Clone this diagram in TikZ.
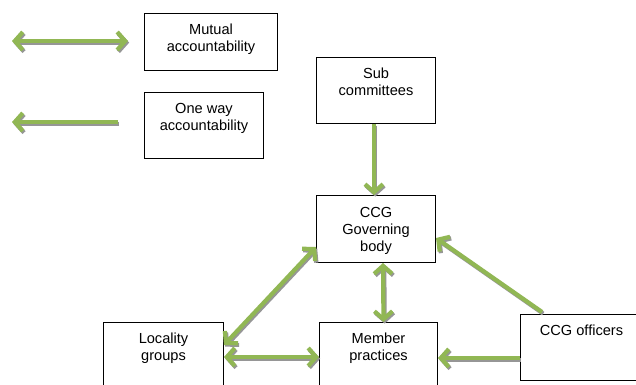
\documentclass[tikz,border=0pt]{standalone}
\usepackage{fontspec}
\setmainfont{Liberation Sans}
\usetikzlibrary{arrows.meta,calc}
\definecolor{accgreen}{RGB}{145,183,84}
\definecolor{shadowgray}{RGB}{150,150,150}
\tikzset{
  box/.style={draw=black, line width=1pt, fill=white, inner sep=0pt, anchor=north west},
  txt/.style={anchor=north, align=center, inner sep=0pt, font=\fontsize{14.6}{17}\selectfont},
  acc/.style={line width=4.2pt, draw=accgreen},
  accshadow/.style={line width=4.2pt, draw=shadowgray, transform canvas={shift={(1.2pt,-1.6pt)}}},
  tipend/.style={-{Straight Barb[length=8pt,width=18pt]}},
  tipboth/.style={{Straight Barb[length=8pt,width=18pt]}-{Straight Barb[length=8pt,width=18pt]}}
}
\begin{document}
\begin{tikzpicture}[x=1pt,y=-1pt]
\useasboundingbox (0,0) rectangle (636,384);
\clip (0,0) rectangle (636,384);
\fill[white] (0,0) rectangle (636,384);

% boxes
\node[box, minimum width=133pt, minimum height=57pt] (mutual) at (144,13) {};
\node[box, minimum width=119pt, minimum height=66pt] (oneway) at (144,92) {};
\node[box, minimum width=119pt, minimum height=66pt] (sub) at (316,57) {};
\node[box, minimum width=119pt, minimum height=67pt] (gov) at (316,195) {};
\node[box, minimum width=120pt, minimum height=80pt] (loc) at (103,322) {};
\node[box, minimum width=118pt, minimum height=80pt] (mem) at (319,322) {};
\node[box, minimum width=122pt, minimum height=66pt] (off) at (520,314) {};

% texts
\node[txt] (tmutual) at ([yshift=-11pt]mutual.north) {Mutual\\accountability};
\node[txt] (toneway) at ([yshift=-11pt]oneway.north) {One way\\accountability};
\node[txt] (tsub) at ([yshift=-11pt]sub.north) {Sub\\committees};
\node[txt] (tgov) at ([yshift=-12pt]gov.north) {CCG\\Governing\\body};
\node[txt] (tloc) at ([yshift=-11pt]loc.north) {Locality\\groups};
\node[txt] (tmem) at ([yshift=-11pt]mem.north) {Member\\practices};
\node[txt] (toff) at ([yshift=-11pt]off.north) {CCG officers};

% legend arrow end points
\coordinate (m1) at (12,41);
\coordinate (m2) at (128,41);
\coordinate (o1) at (118,122);
\coordinate (o2) at (12,122);

% connector end points on the boxes
\coordinate (subS) at ([xshift=-2pt]sub.south);
\coordinate (govN) at ([xshift=-2pt]gov.north);
\coordinate (govS) at ([xshift=7pt]gov.south);
\coordinate (memN) at ([xshift=5pt]mem.north);
\coordinate (locNE) at ([yshift=-23pt]loc.north east);
\coordinate (govW) at ([yshift=-52pt]gov.north west);
\coordinate (locE) at ([yshift=-35pt]loc.north east);
\coordinate (memW) at ([yshift=-35pt]mem.north west);
\coordinate (offN) at ([xshift=22pt,yshift=2pt]off.north west);
\coordinate (govE) at ([yshift=-43pt]gov.north east);
\coordinate (offW) at ([yshift=-44pt]off.north west);
\coordinate (memE) at ([yshift=-36pt]mem.north east);

% shadows
\draw[accshadow, tipboth] (m1) -- (m2);
\draw[accshadow, tipend] (o1) -- (o2);
\draw[accshadow, tipend] (subS) -- (govN);
\draw[accshadow, tipboth] (govS) -- (memN);
\draw[accshadow, tipboth] (locNE) -- (govW);
\draw[accshadow, tipboth] (locE) -- (memW);
\draw[accshadow, tipend] (offN) -- (govE);
\draw[accshadow, tipend] (offW) -- (memE);

% arrows
\draw[acc, tipboth] (m1) -- (m2);
\draw[acc, tipend] (o1) -- (o2);
\draw[acc, tipend] (subS) -- (govN);
\draw[acc, tipboth] (govS) -- (memN);
\draw[acc, tipboth] (locNE) -- (govW);
\draw[acc, tipboth] (locE) -- (memW);
\draw[acc, tipend] (offN) -- (govE);
\draw[acc, tipend] (offW) -- (memE);
\end{tikzpicture}
\end{document}
